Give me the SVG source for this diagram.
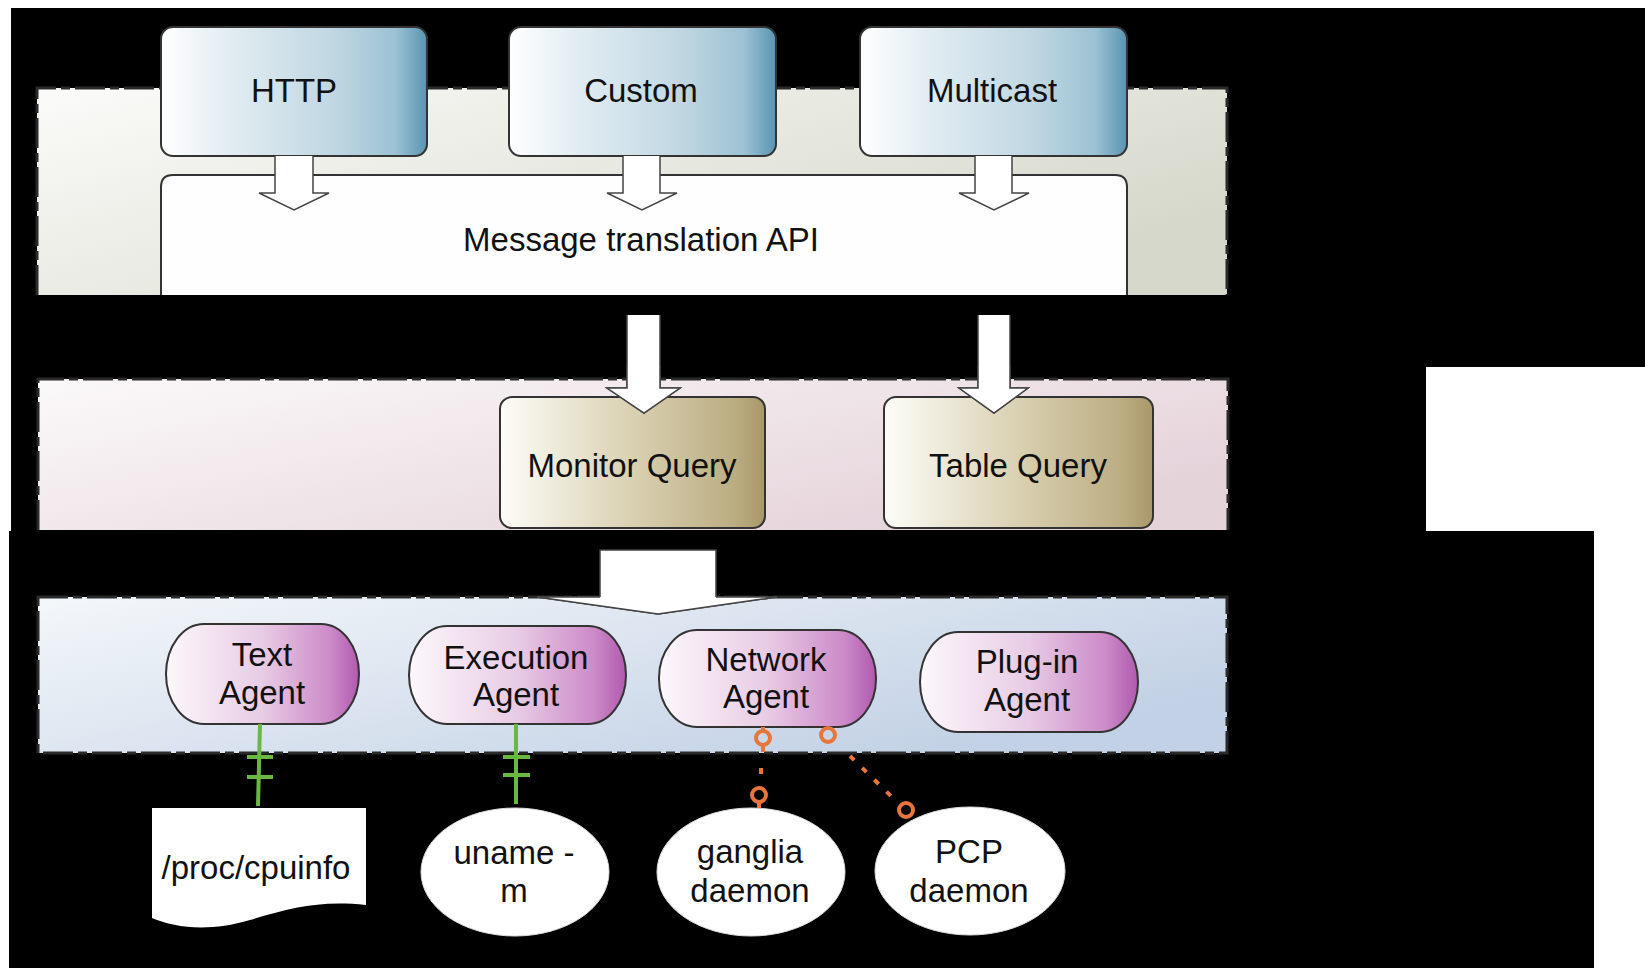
<svg xmlns="http://www.w3.org/2000/svg" width="1645" height="968" viewBox="0 0 1645 968">
<defs>
<style>
.lbl{font-family:"Liberation Sans",Arial,Helvetica,sans-serif;font-size:33px;fill:#111;text-anchor:middle}
.panel{stroke:#2a2a2a;stroke-width:3;stroke-dasharray:30 5 9 5}
.box{stroke:#333;stroke-width:2}
.barrow{fill:#fff;stroke:#444;stroke-width:1.5;stroke-linejoin:miter}
.one{stroke:#69b941;stroke-width:4;fill:none}
.opt{stroke:#e8763a;stroke-width:4;fill:none}
.dot{stroke:#e8763a;stroke-width:4;fill:none;stroke-dasharray:6 11}
.ext{fill:#fff;stroke:#ddd;stroke-width:1}
</style>
<linearGradient id="gTop" x1="0" y1="0" x2="1" y2="0.6"><stop offset="0" stop-color="#fbfbf9"/><stop offset="1" stop-color="#d6d8cb"/></linearGradient>
<linearGradient id="gMid" x1="0" y1="0" x2="1" y2="0.6"><stop offset="0" stop-color="#fbf9fa"/><stop offset="1" stop-color="#e5d3da"/></linearGradient>
<linearGradient id="gBot" x1="0" y1="0" x2="1" y2="0.6"><stop offset="0" stop-color="#f4f7fa"/><stop offset="1" stop-color="#c2d1e5"/></linearGradient>
<linearGradient id="gBlue" x1="0" y1="0" x2="1" y2="0"><stop offset="0" stop-color="#ffffff"/><stop offset="0.25" stop-color="#e2edf2"/><stop offset="0.65" stop-color="#c0d7e2"/><stop offset="0.88" stop-color="#9cc2d4"/><stop offset="1" stop-color="#5a94b2"/></linearGradient>
<linearGradient id="gOlive" x1="0" y1="0" x2="1" y2="0"><stop offset="0" stop-color="#fdfdf9"/><stop offset="0.45" stop-color="#ddd5b8"/><stop offset="0.88" stop-color="#bcae83"/><stop offset="1" stop-color="#a8976a"/></linearGradient>
<linearGradient id="gPurp" x1="0" y1="0" x2="1" y2="0"><stop offset="0" stop-color="#fcf8fb"/><stop offset="0.5" stop-color="#e8cbe4"/><stop offset="0.85" stop-color="#cc8bc9"/><stop offset="1" stop-color="#b05aae"/></linearGradient>
</defs>
<rect x="0" y="0" width="1645" height="968" fill="#fff"/>
<g id="backdrop" fill="#000">
<rect x="11" y="8" width="1634" height="359"/>
<rect x="11" y="367" width="1415" height="164"/>
<rect x="9" y="531" width="1585" height="437"/>
</g>

<g id="panel-top">
<path d="M37,295 V88 H1227 V295 Z" fill="url(#gTop)" stroke="none"/>
<path d="M37,295 V88 H1227 V295" fill="none" class="panel"/>
</g>
<g id="panel-middle">
<path d="M38,530 V379 H1228 V530 Z" fill="url(#gMid)" stroke="none"/>
<path d="M38,530 V379 H1228 V530" fill="none" class="panel"/>
</g>
<g id="panel-bottom">
<rect x="38" y="597" width="1189" height="156" fill="url(#gBot)" class="panel"/>
</g>

<g id="msg-api">
<path d="M161,295 V187 Q161,175 173,175 H1115 Q1127,175 1127,187 V295 Z" fill="#fefefe" stroke="none"/>
<path d="M161,295 V187 Q161,175 173,175 H1115 Q1127,175 1127,187 V295" fill="none" class="box"/>
<text class="lbl" x="641" y="251">Message translation API</text>
</g>
<g id="http">
<rect x="161" y="27" width="266" height="129" rx="12" fill="url(#gBlue)" class="box"/>
<text class="lbl" x="294" y="102">HTTP</text>
</g>
<g id="custom">
<rect x="509" y="27" width="267" height="129" rx="12" fill="url(#gBlue)" class="box"/>
<text class="lbl" x="641" y="102">Custom</text>
</g>
<g id="multicast">
<rect x="860" y="27" width="267" height="129" rx="12" fill="url(#gBlue)" class="box"/>
<text class="lbl" x="992" y="102">Multicast</text>
</g>

<g id="monitor-query">
<rect x="500" y="397" width="265" height="131" rx="12" fill="url(#gOlive)" class="box"/>
<text class="lbl" x="632" y="477">Monitor Query</text>
</g>
<g id="table-query">
<rect x="884" y="397" width="269" height="131" rx="12" fill="url(#gOlive)" class="box"/>
<text class="lbl" x="1018" y="477">Table Query</text>
</g>

<g id="text-agent">
<rect x="166" y="624" width="193" height="100" rx="38" ry="50" fill="url(#gPurp)" class="box"/>
<text class="lbl" x="262" y="666">Text</text>
<text class="lbl" x="262" y="704">Agent</text>
</g>
<g id="execution-agent">
<rect x="409" y="626" width="217" height="98" rx="38" ry="49" fill="url(#gPurp)" class="box"/>
<text class="lbl" x="516" y="669">Execution</text>
<text class="lbl" x="516" y="706">Agent</text>
</g>
<g id="network-agent">
<rect x="659" y="630" width="217" height="97" rx="38" ry="48" fill="url(#gPurp)" class="box"/>
<text class="lbl" x="766" y="671">Network</text>
<text class="lbl" x="766" y="708">Agent</text>
</g>
<g id="plugin-agent">
<rect x="920" y="632" width="218" height="100" rx="38" ry="50" fill="url(#gPurp)" class="box"/>
<text class="lbl" x="1027" y="673">Plug-in</text>
<text class="lbl" x="1027" y="711">Agent</text>
</g>

<g id="proc-cpuinfo">
<path d="M152,808 H366 V905 C320,900 290,908 250,920 C210,932 175,928 152,918 Z" fill="#fff"/>
<text class="lbl" x="256" y="879">/proc/cpuinfo</text>
</g>
<g id="uname">
<ellipse cx="515" cy="872" rx="94" ry="64" class="ext"/>
<text class="lbl" x="514" y="864">uname -</text>
<text class="lbl" x="514" y="902">m</text>
</g>
<g id="ganglia">
<ellipse cx="751" cy="872" rx="94" ry="64" class="ext"/>
<text class="lbl" x="750" y="863">ganglia</text>
<text class="lbl" x="750" y="902">daemon</text>
</g>
<g id="pcp">
<ellipse cx="970" cy="871" rx="95" ry="64" class="ext"/>
<text class="lbl" x="969" y="863">PCP</text>
<text class="lbl" x="969" y="902">daemon</text>
</g>

<g id="connectors">
<path class="barrow" d="M275,156 V193 H259 L294,210 L329,193 H313 V156"/>
<path class="barrow" d="M623,156 V193 H607 L642,210 L677,193 H660 V156"/>
<path class="barrow" d="M975,156 V193 H959 L994,210 L1029,193 H1012 V156"/>
<path class="barrow" d="M627,315 V388 H607 L644,413 L680,388 H660 V315" stroke="none"/>
<path class="barrow" d="M627,366 V388 H607 L644,413 L680,388 H660 V366" fill="none" stroke="#666"/>
<path class="barrow" d="M978,315 V388 H959 L994,413 L1028,388 H1010 V315" stroke="none"/>
<path class="barrow" d="M978,366 V388 H959 L994,413 L1028,388 H1010 V366" fill="none" stroke="#666"/>
<path class="barrow" d="M600,550 V597 H537 L658,614 L777,597 H716 V550 Z" stroke="none"/>
<path class="barrow" d="M600,597 H537 L658,614 L777,597 H716" fill="none" stroke="#555" stroke-width="2"/>

<path class="one" d="M260,724 L258,806 M247,757 H273 M247,777 H273"/>
<path class="one" d="M516,724 L516,804 M503,757 H530 M503,775 H530"/>

<path class="opt" d="M763,727 V731 M763,745 V752"/>
<circle class="opt" cx="763" cy="738" r="7"/>
<path class="dot" d="M761,768 V780"/>
<circle class="opt" cx="759" cy="795" r="7"/>
<path class="opt" d="M759,802 V808"/>

<path class="opt" d="M829,727 V729"/>
<circle class="opt" cx="828" cy="735" r="7"/>
<path class="dot" d="M850,756 L893,798"/>
<circle class="opt" cx="906" cy="810" r="7"/>
</g>
</svg>
